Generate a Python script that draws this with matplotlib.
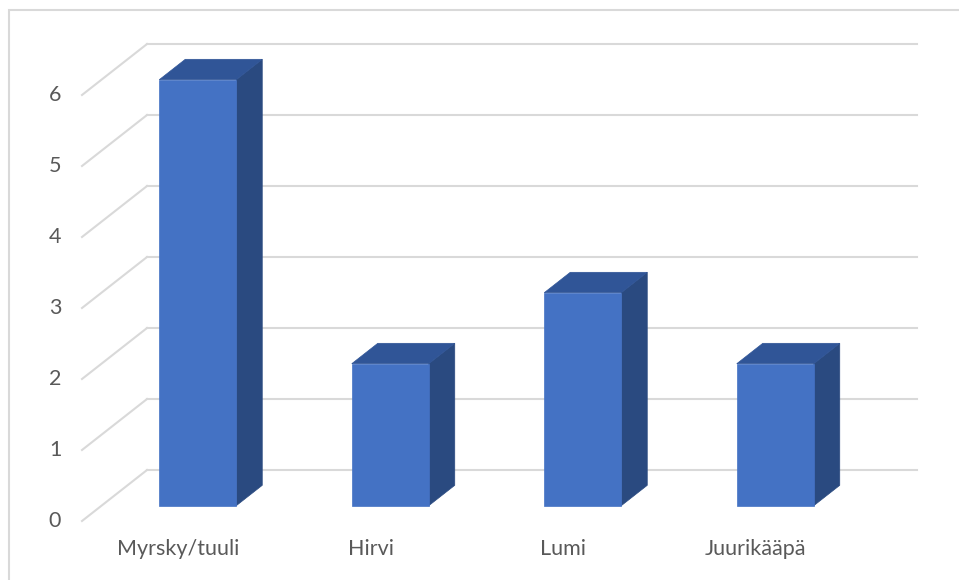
import matplotlib.pyplot as plt
from matplotlib.patches import Polygon, Rectangle

categories = ['Myrsky/tuuli', 'Hirvi', 'Lumi', 'Juurikääpä']
counts = [6, 2, 3, 2]
ticks = [0, 1, 2, 3, 4, 5, 6]

# pseudo-3D layout, in data units (x: one unit per category, y: value)
depth_x, depth_y = 0.3377, 0.718   # floor depth offset
bar_w = 0.4
f0, f1 = 0.3, 0.7                  # bar front/back position within depth

front_col = '#4472C4'
top_col = '#305597'
side_col = '#2A4A80'
grid_col = '#D9D9D9'
text_col = '#595959'

plt.rcParams['font.family'] = ['Lato', 'DejaVu Sans']

fig = plt.figure(figsize=(9.59, 5.80), dpi=100)
ax = fig.add_axes([0, 0, 1, 1])
ax.set_xlim(-82 / 192.5, (959 - 82) / 192.5)
ax.set_ylim(-59 / 71, 521 / 71)
ax.axis('off')

# chart border
ax.add_patch(Rectangle((-73 / 192.5, -2), 20, 2 + 511 / 71, fill=False,
                       ec=grid_col, lw=1.5, zorder=0))

n = len(categories)
for v in ticks:
    ax.plot([0, depth_x], [v, v + depth_y], color=grid_col, lw=1.5, zorder=1)
    ax.plot([depth_x, depth_x + n], [v + depth_y, v + depth_y],
            color=grid_col, lw=1.5, zorder=1)
    ax.text(-0.14, v, str(v), ha='center', va='center', fontsize=15.5,
            color=text_col)

for i, (name, val) in enumerate(zip(categories, counts)):
    x0 = i + 0.5 - bar_w / 2 + f0 * depth_x
    y0 = f0 * depth_y
    dx = (f1 - f0) * depth_x
    dy = (f1 - f0) * depth_y
    front = [(x0, y0), (x0 + bar_w, y0), (x0 + bar_w, y0 + val), (x0, y0 + val)]
    top = [(x0, y0 + val), (x0 + bar_w, y0 + val),
           (x0 + bar_w + dx, y0 + val + dy), (x0 + dx, y0 + val + dy)]
    side = [(x0 + bar_w, y0), (x0 + bar_w + dx, y0 + dy),
            (x0 + bar_w + dx, y0 + val + dy), (x0 + bar_w, y0 + val)]
    ax.add_patch(Polygon(side, closed=True, fc=side_col, ec=side_col, lw=0.5, zorder=3))
    ax.add_patch(Polygon(top, closed=True, fc=top_col, ec=top_col, lw=0.5, zorder=3))
    ax.add_patch(Polygon(front, closed=True, fc=front_col, ec=front_col, lw=0.5, zorder=4))
    ax.text(i + 0.5, -28 / 71, name, ha='center', va='center', fontsize=15.5,
            color=text_col)

fig.savefig('out.png', dpi=100)
